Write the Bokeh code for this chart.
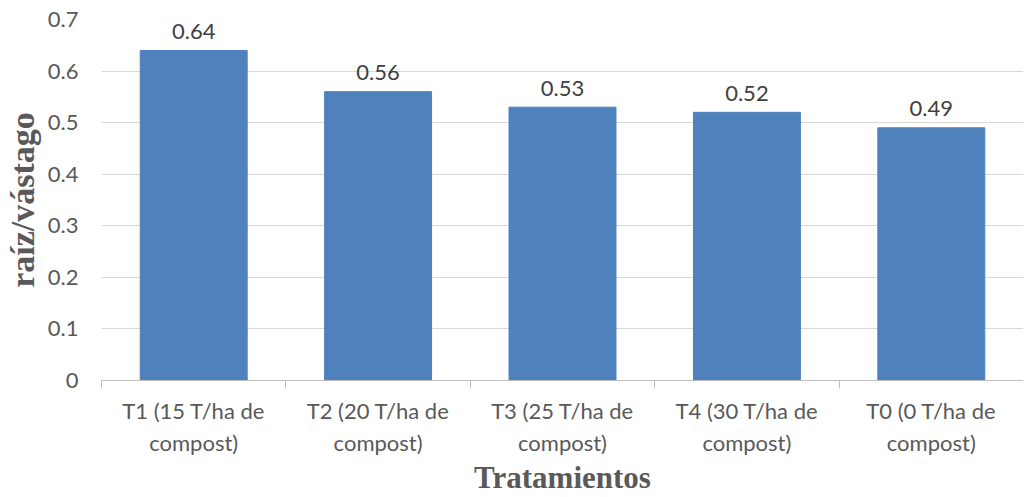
from bokeh.plotting import figure
from bokeh.models import Range1d, FixedTicker, NumeralTickFormatter, ColumnDataSource
from bokeh.core.properties import value
from bokeh.embed import file_html
from bokeh.resources import INLINE

categories = ["T1 (15 T/ha de\ncompost)", "T2 (20 T/ha de\ncompost)", "T3 (25 T/ha de\ncompost)",
              "T4 (30 T/ha de\ncompost)", "T0 (0 T/ha de\ncompost)"]
values = [0.64, 0.56, 0.53, 0.52, 0.49]
value_labels = ["0.64", "0.56", "0.53", "0.52", "0.49"]
y_ticks = [0, 0.1, 0.2, 0.3, 0.4, 0.5, 0.6, 0.7]

centers = [i + 0.5 for i in range(len(categories))]
src = ColumnDataSource(dict(x=centers, top=values, label=value_labels))

p = figure(width=1023, height=497, output_backend="svg", toolbar_location=None,
           x_range=Range1d(0, len(categories)), y_range=Range1d(0, 0.7),
           min_border_left=100, min_border_right=0, min_border_top=19, min_border_bottom=116)
p.outline_line_color = None
p.background_fill_color = "white"

p.vbar(x="x", top="top", width=0.58, source=src, fill_color="#4F81BD", line_color="#4F81BD")
p.text(x="x", y="top", text="label", source=src, text_align="center", text_baseline="alphabetic",
       y_offset=-19, text_font=value("Lato"), text_font_size="22px", text_color="#404040")

# y axis
p.yaxis.ticker = FixedTicker(ticks=y_ticks)
p.yaxis.formatter = NumeralTickFormatter(format="0.[0]")
p.yaxis.axis_line_color = None
p.yaxis.major_tick_line_color = None
p.yaxis.minor_tick_line_color = None
p.yaxis.major_tick_out = 0
p.yaxis.major_tick_in = 0
p.yaxis.minor_tick_out = 0
p.yaxis.minor_tick_in = 0
p.yaxis.major_label_standoff = 23
p.yaxis.major_label_text_font = "Lato"
p.yaxis.major_label_text_font_size = "22px"
p.yaxis.major_label_text_color = "#595959"
p.yaxis.axis_label = "raíz/vástago"
p.yaxis.axis_label_text_font = "Liberation Serif"
p.yaxis.axis_label_text_font_style = "bold"
p.yaxis.axis_label_text_font_size = "34px"
p.yaxis.axis_label_text_color = "#595959"
p.yaxis.axis_label_standoff = 4

p.ygrid.grid_line_color = "#D9D9D9"
p.ygrid.ticker = FixedTicker(ticks=y_ticks)
p.xgrid.grid_line_color = None

# x axis
p.xaxis.ticker = FixedTicker(ticks=centers, minor_ticks=list(range(len(categories) + 1)))
p.xaxis.major_label_overrides = {c: lab for c, lab in zip(centers, categories)}
p.xaxis.major_tick_line_color = None
p.xaxis.major_tick_out = 0
p.xaxis.major_tick_in = 0
p.xaxis.minor_tick_line_color = "#BFBFBF"
p.xaxis.minor_tick_out = 8
p.xaxis.minor_tick_in = 0
p.xaxis.axis_line_color = "#BFBFBF"
p.xaxis.major_label_standoff = 8
p.xaxis.major_label_text_font = "Lato"
p.xaxis.major_label_text_font_size = "22px"
p.xaxis.major_label_text_color = "#595959"
p.xaxis.axis_label = "Tratamientos"
p.xaxis.axis_label_text_font = "Liberation Serif"
p.xaxis.axis_label_text_font_style = "bold"
p.xaxis.axis_label_text_font_size = "31px"
p.xaxis.axis_label_text_color = "#595959"
p.xaxis.axis_label_standoff = 1

open("out.html", "w").write(file_html(p, INLINE))
